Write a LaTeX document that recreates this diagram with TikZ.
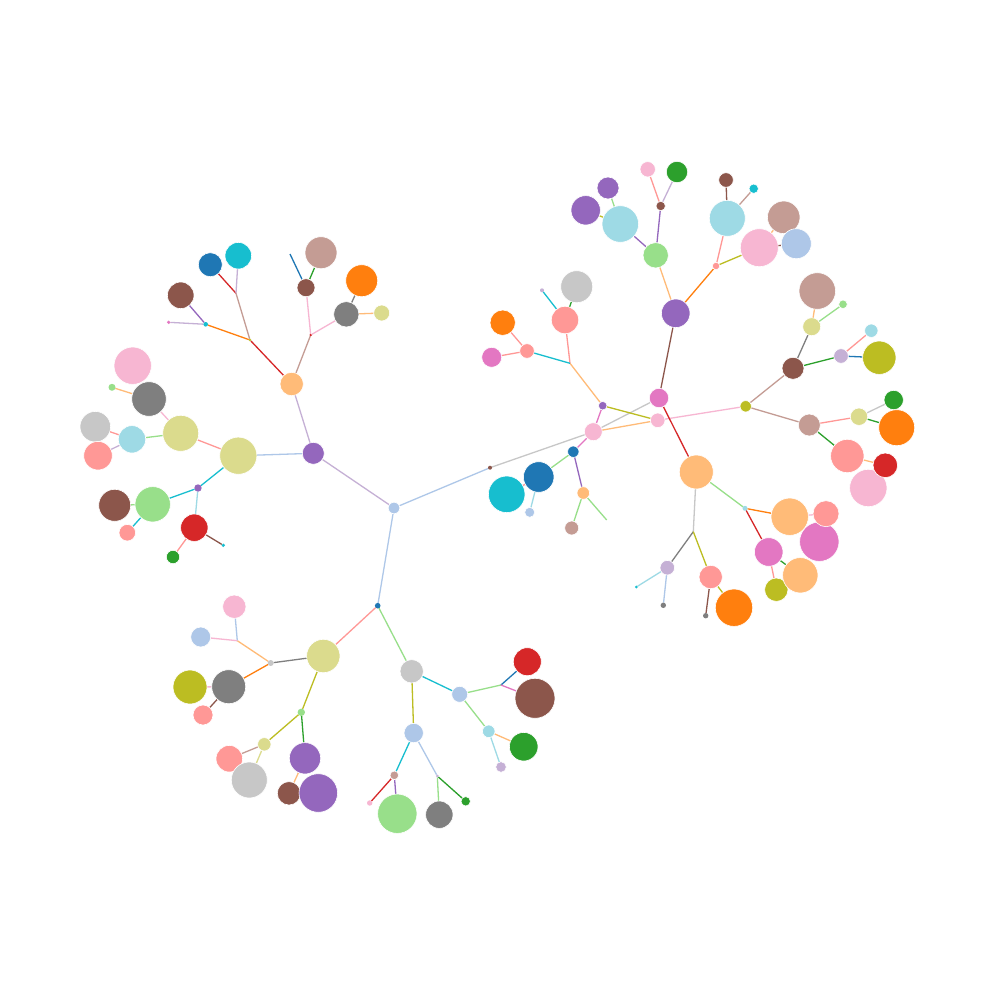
\documentclass[tikz,border=0pt]{standalone}
\pgfdeclarelayer{back}
\pgfdeclarelayer{bg}
\pgfsetlayers{back,bg,main}
\definecolor{tBlue}{HTML}{1F77B4}
\definecolor{tLBlue}{HTML}{AEC7E8}
\definecolor{tOrange}{HTML}{FF7F0E}
\definecolor{tLOrange}{HTML}{FFBB78}
\definecolor{tGreen}{HTML}{2CA02C}
\definecolor{tLGreen}{HTML}{98DF8A}
\definecolor{tRed}{HTML}{D62728}
\definecolor{tLRed}{HTML}{FF9896}
\definecolor{tPurple}{HTML}{9467BD}
\definecolor{tLPurple}{HTML}{C5B0D5}
\definecolor{tBrown}{HTML}{8C564B}
\definecolor{tLBrown}{HTML}{C49C94}
\definecolor{tPink}{HTML}{E377C2}
\definecolor{tLPink}{HTML}{F7B6D2}
\definecolor{tGray}{HTML}{7F7F7F}
\definecolor{tLGray}{HTML}{C7C7C7}
\definecolor{tOlive}{HTML}{BCBD22}
\definecolor{tLOlive}{HTML}{DBDB8D}
\definecolor{tCyan}{HTML}{17BECF}
\definecolor{tLCyan}{HTML}{9EDAE5}
\tikzset{
  nd/.style={circle,inner sep=0pt,outer sep=0pt,draw=white,line width=0.6pt},
  tinynd/.style={circle,inner sep=0pt,outer sep=0pt,draw=none},
  ed/.style={line width=1.3pt}
}
\newcommand\gnode[5]{\node[nd,fill=#5,minimum size={2*#4pt}] (#1) at (#2,#3) {};}
\newcommand\tnode[5]{\node[tinynd,fill=#5,minimum size={2*#4pt}] (#1) at (#2,#3) {};}
\newcommand\gedge[3]{\draw[ed,#3] (#1) -- (#2);}
\begin{document}
\begin{tikzpicture}[x=1pt,y=-1pt]
\begin{pgfonlayer}{back}
\fill[white] (0,0) rectangle (1001,1001);
\end{pgfonlayer}
\useasboundingbox (0,0) rectangle (1001,1001);
% ---- nodes ----
\gnode{C}{394}{508}{5.8}{tLBlue}
\gnode{N1}{313.3}{453.3}{11}{tPurple}
\gnode{N2}{238.3}{455.7}{18.6}{tLOlive}
\gnode{N3}{180.7}{433.3}{18}{tLOlive}
\gnode{N5}{95.3}{426.7}{15.3}{tLGray}
\gnode{N6}{98}{455.7}{14.3}{tLRed}
\gnode{N4}{132}{439.3}{13.7}{tLCyan}
\gnode{N8}{132.7}{365.7}{18.7}{tLPink}
\gnode{N7}{149}{399}{17.3}{tGray}
\tnode{N9}{112}{387.3}{3.5}{tLGreen}
\gnode{N10}{291.7}{384}{11.7}{tLOrange}
\tnode{N11}{250}{340}{1.3}{tOlive}
\tnode{N12}{205.7}{324.3}{2.3}{tCyan}
\tnode{N13}{168.7}{322.3}{1.8}{tPink}
\gnode{N14}{180.7}{295.3}{13.3}{tBrown}
\coordinate (N15) at (236,293.3);
\gnode{N16}{210.3}{264.7}{12}{tBlue}
\gnode{N17}{238.3}{255.7}{13.3}{tCyan}
\tnode{N18}{310.7}{335}{1.3}{tRed}
\gnode{N19}{306}{287.7}{9}{tBrown}
\gnode{N20}{321}{252.7}{16}{tLBrown}
\coordinate (N21) at (290,254);
\gnode{N22}{361.7}{280.7}{16}{tOrange}
\gnode{N23}{346.3}{314.3}{12.7}{tGray}
\gnode{N24}{381.7}{313}{8}{tLOlive}
\tnode{N25}{198}{488}{3.7}{tPurple}
\gnode{N27}{114.7}{505.3}{16}{tBrown}
\gnode{N26}{152.7}{504.3}{17.7}{tLGreen}
\gnode{N28}{127.3}{532.7}{8.3}{tLRed}
\gnode{N29}{194.3}{527.7}{13.7}{tRed}
\gnode{N30}{173}{557}{6.7}{tGreen}
\tnode{N31}{223.3}{545.3}{1.8}{tCyan}
\tnode{N32}{377.7}{605.7}{2.8}{tBlue}
\gnode{N33}{323.3}{656}{16.7}{tLOlive}
\tnode{N34}{270.7}{663}{3}{tLGray}
\coordinate (N35) at (237.3,640.7);
\gnode{N36}{234.3}{606.7}{11.7}{tLPink}
\gnode{N37}{200.7}{637}{10}{tLBlue}
\gnode{N39}{190}{687}{17}{tOlive}
\gnode{N38}{228.7}{686.7}{17}{tGray}
\gnode{N40}{203}{715}{10}{tLRed}
\tnode{N41}{301.3}{712.3}{3.7}{tLGreen}
\gnode{N42}{264.3}{744.3}{6.7}{tLOlive}
\gnode{N43}{229.3}{758.7}{13.3}{tLRed}
\gnode{N44}{249.3}{780}{18}{tLGray}
\gnode{N45}{305}{758.3}{15.7}{tPurple}
\gnode{N46}{289}{793.3}{11.7}{tBrown}
\gnode{N47}{318.3}{793}{19.3}{tPurple}
\gnode{N48}{411.7}{671.3}{11.7}{tLGray}
\gnode{N49}{459.7}{694.3}{8}{tLBlue}
\coordinate (N50) at (501,685);
\gnode{N51}{527.3}{661.7}{14}{tRed}
\gnode{N52}{535}{698.3}{20}{tBrown}
\gnode{N53}{488.7}{731.3}{6.3}{tLCyan}
\gnode{N54}{523.7}{746.7}{14.3}{tGreen}
\gnode{N55}{501}{767}{5.3}{tLPurple}
\gnode{N56}{413.7}{733}{9.7}{tLBlue}
\gnode{N57}{394.3}{775.3}{4.3}{tLBrown}
\tnode{N58}{369.7}{803}{2.7}{tLPink}
\gnode{N59}{397.3}{813.7}{19.7}{tLGreen}
\tnode{N60}{437.3}{776}{1.5}{tLPurple}
\gnode{N61}{439.3}{814.7}{13.7}{tGray}
\gnode{N62}{465.7}{801.3}{4.7}{tGreen}
\tnode{N63}{490}{467.7}{2}{tBrown}
\gnode{N64}{506.7}{494.3}{18.3}{tCyan}
\gnode{N65}{538.7}{477}{15.3}{tBlue}
\gnode{N66}{529.7}{512.3}{5}{tLBlue}
\gnode{N67}{573.3}{451.7}{5.7}{tBlue}
\gnode{N68}{583.3}{493}{6.3}{tLOrange}
\gnode{N69}{571.7}{528}{7}{tLBrown}
\coordinate (N70) at (606.7,520);
\gnode{N71}{593.3}{431.7}{9}{tLPink}
\gnode{N72}{602.7}{405.7}{4.3}{tPurple}
\gnode{N73}{659}{398}{9.7}{tPink}
\gnode{N74}{657.7}{420.3}{7.3}{tLPink}
\coordinate (N75) at (570,363.3);
\gnode{N76}{675.7}{313.3}{14.3}{tPurple}
\gnode{N77}{565}{320}{13.7}{tLRed}
\gnode{N78}{576.7}{286.7}{16}{tLGray}
\tnode{N79}{542}{290.3}{2}{tLPurple}
\gnode{N80}{527}{351}{7.3}{tLRed}
\gnode{N81}{502.7}{322.7}{12.7}{tOrange}
\gnode{N82}{491.7}{357.3}{10}{tPink}
\gnode{N83}{655.7}{255.3}{12.7}{tLGreen}
\gnode{N84}{660.7}{206}{4.7}{tBrown}
\gnode{N85}{647.7}{169.3}{7.7}{tLPink}
\gnode{N86}{677}{172}{10.7}{tGreen}
\gnode{N88p}{608}{188}{11}{tPurple}
\gnode{N89}{585.7}{210.3}{14.7}{tPurple}
\gnode{N87}{620.3}{224}{18.3}{tLCyan}
\gnode{N90}{716}{266}{3.7}{tLRed}
\gnode{N91}{727.3}{218.3}{18}{tLCyan}
\gnode{N92}{726}{180}{7.3}{tBrown}
\gnode{N93}{753.7}{188.7}{4.7}{tCyan}
\gnode{N95}{783.7}{217.3}{16.3}{tLBrown}
\gnode{N97}{796.3}{243.7}{15}{tLBlue}
\gnode{N94}{759.3}{247.7}{19}{tLPink}
\gnode{N88}{745.7}{406.3}{5.7}{tOlive}
\gnode{N98}{793}{368.3}{11}{tBrown}
\gnode{N99}{811.7}{326.7}{9}{tLOlive}
\gnode{N100}{817.3}{291}{18.3}{tLBrown}
\gnode{N101}{843}{304.3}{4.3}{tLGreen}
\gnode{N102}{841}{356}{7.3}{tLPurple}
\gnode{N103}{871.3}{330.7}{6.7}{tLCyan}
\gnode{N104}{879.3}{357.7}{16.7}{tOlive}
\gnode{N105}{809.3}{425}{11}{tLBrown}
\gnode{N106}{859}{416.7}{8.7}{tLOlive}
\gnode{N107}{893.7}{400}{9.7}{tGreen}
\gnode{N108}{896.7}{427.7}{18}{tOrange}
\gnode{N111}{868.3}{488}{18.7}{tLPink}
\gnode{N109}{847.3}{456}{16.7}{tLRed}
\gnode{N110}{885.3}{465.3}{12.3}{tRed}
\gnode{N96}{696.3}{472}{17}{tLOrange}
\tnode{N112}{745}{508.3}{2.5}{tLCyan}
\gnode{N115}{819.3}{541.7}{19.7}{tPink}
\gnode{N113}{789.7}{516.7}{18.7}{tLOrange}
\gnode{N114}{826}{513.7}{13}{tLRed}
\gnode{N116}{768.7}{552}{14.3}{tPink}
\gnode{N118}{776.3}{589.7}{11.7}{tOlive}
\gnode{N117}{800.3}{575.3}{17.7}{tLOrange}
\coordinate (N119) at (693.3,531.7);
\gnode{N120}{667.3}{567.7}{7.3}{tLPurple}
\tnode{N121}{636.3}{587}{1.5}{tCyan}
\tnode{N122}{663.3}{605.3}{2.7}{tGray}
\gnode{N123}{710.7}{577}{11.7}{tLRed}
\tnode{N124}{705.7}{615.7}{2.7}{tGray}
\gnode{N125}{734}{607.7}{18.7}{tOrange}
% ---- edges ----
\begin{pgfonlayer}{bg}
\gedge{C}{N1}{tLPurple}
\gedge{C}{N63}{tLBlue}
\gedge{C}{N32}{tLBlue}
\gedge{N1}{N10}{tLPurple}
\gedge{N1}{N2}{tLBlue}
\gedge{N10}{N11}{tRed}
\gedge{N10}{N18}{tLBrown}
\gedge{N11}{N12}{tOrange}
\gedge{N11}{N15}{tLBrown}
\gedge{N12}{N13}{tLPurple}
\gedge{N12}{N14}{tPurple}
\gedge{N15}{N16}{tRed}
\gedge{N15}{N17}{tLPurple}
\gedge{N18}{N19}{tLPink}
\gedge{N18}{N23}{tLPink}
\gedge{N19}{N20}{tGreen}
\gedge{N19}{N21}{tBlue}
\gedge{N23}{N22}{tGray}
\gedge{N23}{N24}{tLOrange}
\gedge{N2}{N3}{tLRed}
\gedge{N3}{N7}{tLPink}
\gedge{N7}{N9}{tLOrange}
\gedge{N3}{N4}{tLGreen}
\gedge{N4}{N5}{tLRed}
\gedge{N4}{N6}{tLPurple}
\gedge{N2}{N25}{tCyan}
\gedge{N25}{N26}{tCyan}
\gedge{N26}{N27}{tLGreen}
\gedge{N26}{N28}{tCyan}
\gedge{N25}{N29}{tLCyan}
\gedge{N29}{N30}{tLRed}
\gedge{N29}{N31}{tBrown}
\gedge{N32}{N33}{tLRed}
\gedge{N33}{N34}{tGray}
\gedge{N34}{N35}{tLOrange}
\gedge{N35}{N36}{tLBlue}
\gedge{N35}{N37}{tLPink}
\gedge{N34}{N38}{tOrange}
\gedge{N38}{N39}{tLPink}
\gedge{N38}{N40}{tBrown}
\gedge{N33}{N41}{tOlive}
\gedge{N41}{N42}{tOlive}
\gedge{N42}{N43}{tLBrown}
\gedge{N42}{N44}{tLOlive}
\gedge{N41}{N45}{tGreen}
\gedge{N45}{N46}{tLOrange}
\gedge{N32}{N48}{tLGreen}
\gedge{N48}{N49}{tCyan}
\gedge{N49}{N50}{tLGreen}
\gedge{N50}{N51}{tBlue}
\gedge{N50}{N52}{tPink}
\gedge{N49}{N53}{tLGreen}
\gedge{N53}{N54}{tLOrange}
\gedge{N53}{N55}{tLCyan}
\gedge{N48}{N56}{tOlive}
\gedge{N56}{N57}{tCyan}
\gedge{N57}{N58}{tRed}
\gedge{N57}{N59}{tPurple}
\gedge{N56}{N60}{tLBlue}
\gedge{N60}{N61}{tLGreen}
\gedge{N60}{N62}{tGreen}
\gedge{N63}{N71}{tLGray}
\gedge{N71}{N73}{tLGray}
\gedge{N71}{N74}{tLOrange}
\gedge{N71}{N67}{tPink}
\gedge{N71}{N72}{tPink}
\gedge{N67}{N65}{tLGreen}
\gedge{N65}{N66}{tLCyan}
\gedge{N65}{N64}{tLRed}
\gedge{N67}{N68}{tPurple}
\gedge{N68}{N69}{tLGreen}
\gedge{N68}{N70}{tLGreen}
\gedge{N72}{N74}{tOlive}
\gedge{N72}{N75}{tLOrange}
\gedge{N75}{N77}{tLRed}
\gedge{N77}{N78}{tGreen}
\gedge{N77}{N79}{tCyan}
\gedge{N75}{N80}{tCyan}
\gedge{N80}{N81}{tLRed}
\gedge{N80}{N82}{tLRed}
\gedge{N74}{N88}{tLPink}
\gedge{N73}{N76}{tBrown}
\gedge{N73}{N96}{tRed}
\gedge{N76}{N83}{tLOrange}
\gedge{N83}{N84}{tPurple}
\gedge{N84}{N85}{tLRed}
\gedge{N84}{N86}{tLPurple}
\gedge{N83}{N87}{tPurple}
\gedge{N87}{N88p}{tLGreen}
\gedge{N87}{N89}{tOlive}
\gedge{N76}{N90}{tOrange}
\gedge{N90}{N91}{tLRed}
\gedge{N91}{N92}{tBrown}
\gedge{N91}{N93}{tLBrown}
\gedge{N90}{N94}{tOlive}
\gedge{N94}{N95}{tLOrange}
\gedge{N94}{N97}{tBrown}
\gedge{N88}{N98}{tLBrown}
\gedge{N98}{N99}{tGray}
\gedge{N99}{N100}{tLOrange}
\gedge{N99}{N101}{tLGreen}
\gedge{N98}{N102}{tGreen}
\gedge{N102}{N103}{tLRed}
\gedge{N102}{N104}{tBlue}
\gedge{N88}{N105}{tLBrown}
\gedge{N105}{N106}{tLRed}
\gedge{N106}{N107}{tLGray}
\gedge{N106}{N108}{tGreen}
\gedge{N105}{N109}{tGreen}
\gedge{N109}{N110}{tLOrange}
\gedge{N96}{N112}{tLGreen}
\gedge{N112}{N113}{tOrange}
\gedge{N113}{N114}{tLPink}
\gedge{N112}{N116}{tRed}
\gedge{N116}{N117}{tGreen}
\gedge{N116}{N118}{tLRed}
\gedge{N96}{N119}{tLGray}
\gedge{N119}{N120}{tGray}
\gedge{N120}{N121}{tLCyan}
\gedge{N120}{N122}{tLBlue}
\gedge{N119}{N123}{tOlive}
\gedge{N123}{N124}{tBrown}
\gedge{N123}{N125}{tOlive}
\end{pgfonlayer}
\end{tikzpicture}
\end{document}
